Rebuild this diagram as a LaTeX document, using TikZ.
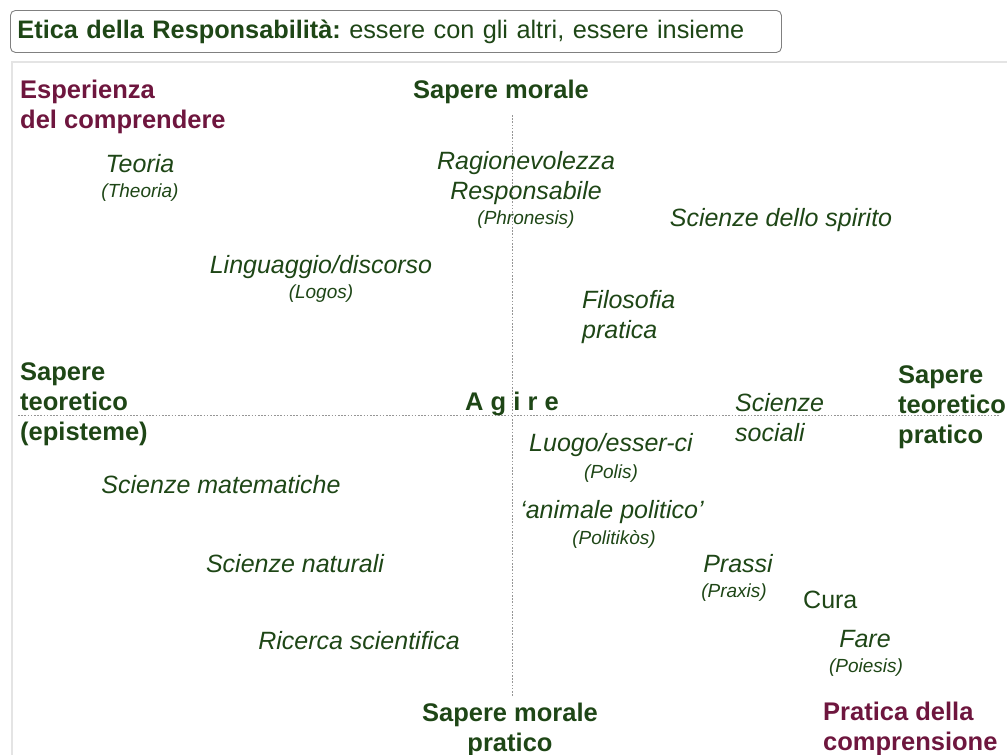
\documentclass[tikz,border=0pt]{standalone}
\usepackage{fontspec}
\setmainfont{Liberation Sans}
\usetikzlibrary{positioning}
\definecolor{etgreen}{RGB}{30,70,22}
\definecolor{etwine}{RGB}{110,22,62}
\definecolor{etframe}{RGB}{228,228,228}
\definecolor{etaxis}{RGB}{150,150,150}

\begin{document}
\begin{tikzpicture}[x=1pt,y=-1pt,
    every node/.style={inner sep=0pt, text=etgreen},
    head/.style={font=\fontsize{25.5}{30}\selectfont\bfseries, align=left},
    pole/.style={head, text=etwine},
    term/.style={font=\fontsize{25}{30}\selectfont\itshape, align=center},
    greek/.style={font=\fontsize{19}{23}\selectfont\itshape},
    axis/.style={etaxis, line width=0.9pt, dash pattern=on 1.6pt off 1.6pt}]
    \useasboundingbox (0,0) rectangle (1007,755);

    % frame and title
    \draw[etframe, line width=2pt] (12,755) -- (12,62) -- (1007,62);
    \node[draw=gray, line width=0.9pt, rounded corners=5pt, anchor=north west,
          minimum width=771pt, minimum height=42pt, text width=757pt, inner xsep=5pt,
          align=left, font=\fontsize{25.3}{30}\selectfont] (title) at (10,10)
          {\textbf{Etica della Responsabilità:}~essere con gli altri, essere insieme};

    % axes
    \coordinate (axW) at (18,415);
    \coordinate (axE) at (1000,415);
    \coordinate (axN) at (512,115);
    \coordinate (axS) at (512,697);
    \draw[axis] (axW) -- (axE);
    \draw[axis] (axN) -- (axS);

    % poles (base = last line)
    \node[pole, anchor=base west] (esperienza) at (20,128) {Esperienza\\del comprendere};
    \node[head, anchor=base] (morale) at (501,98) {Sapere morale};
    \node[head, anchor=base west] (episteme) at (20,440) {Sapere\\teoretico\\(episteme)};
    \node[head, anchor=base] (agire) at (512,410) {A g i r e};
    \node[head, anchor=base west] (pratico) at (898,443) {Sapere\\teoretico\\pratico};
    \node[head, align=center, anchor=base] (moralepr) at (510,751) {Sapere morale\\pratico};
    \node[pole, anchor=base west] (comprensione) at (823,750) {Pratica della\\comprensione};

    % upper left
    \node[term, anchor=base] (teoria) at (140,172) {Teoria};
    \node[greek, anchor=base] (theoria) at (140,197) {(Theoria)};
    \node[term, anchor=base] (logos) at (321,273) {Linguaggio/discorso};
    \node[greek, anchor=base] (logosgr) at (321,298) {(Logos)};

    % upper right
    \node[term, anchor=base] (phronesis) at (526,199) {Ragionevolezza\\Responsabile};
    \node[greek, anchor=base] (phronesisgr) at (526,224) {(Phronesis)};
    \node[term, anchor=base] (spirito) at (781,226) {Scienze dello spirito};
    \node[term, align=left, anchor=base west] (filosofia) at (582,338) {Filosofia\\pratica};

    % lower left
    \node[term, anchor=base] (matematiche) at (221,493) {Scienze matematiche};
    \node[term, anchor=base] (naturali) at (295,572) {Scienze naturali};
    \node[term, anchor=base] (ricerca) at (359,649) {Ricerca scientifica};

    % lower right
    \node[term, align=left, anchor=base west] (sociali) at (735,441) {Scienze\\sociali};
    \node[term, anchor=base] (polis) at (611,451) {Luogo/esser-ci};
    \node[greek, anchor=base] (polisgr) at (611,478) {(Polis)};
    \node[term, anchor=base] (animale) at (612,518) {‘animale politico’};
    \node[greek, anchor=base] (politikos) at (614,544) {(Politikòs)};
    \node[term, anchor=base] (prassi) at (738,572) {Prassi};
    \node[greek, anchor=base] (praxis) at (734,597) {(Praxis)};
    \node[font=\fontsize{25}{30}\selectfont, anchor=base west] (cura) at (803,608) {Cura};
    \node[term, anchor=base] (fare) at (865,647) {Fare};
    \node[greek, anchor=base] (poiesis) at (866,672) {(Poiesis)};
\end{tikzpicture}
\end{document}
